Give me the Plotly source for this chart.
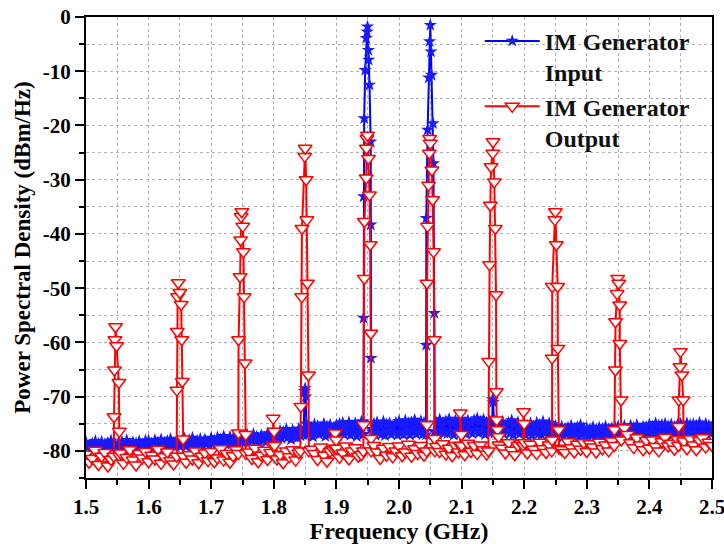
import plotly.graph_objects as go

# ---------------- data ----------------
FREQ_START = 1.5          # GHz, first sample of the noise-floor grids
IN_STEP = 0.0025          # GHz, grid step of the input noise-floor samples
OUT_STEP = 0.005          # GHz, grid step of the output noise-floor samples

# IM Generator Input: noise floor (dBm/Hz), 1.5000 ... 2.5000 GHz
input_floor = [
    -78.4, -79.3, -78.9, -79.7, -78.6, -79.9, -78.2, -79.1, -78.7, -79.6,
    -78.3, -79.4, -78.8, -79.8, -78.5, -79.2, -78.1, -79.5, -78.9, -79.0,
    -79.5, -78.6, -79.1, -78.3, -79.7, -78.9, -78.0, -79.4, -78.7, -79.8,
    -78.4, -79.2, -78.6, -79.6, -78.2, -79.3, -78.8, -79.5, -78.1, -79.0,
    -78.1, -79.2, -78.6, -79.5, -78.0, -78.9, -78.4, -79.6, -77.9, -79.1,
    -78.5, -79.3, -78.2, -79.4, -77.8, -78.9, -78.6, -79.2, -78.0, -79.0,
    -79.1, -78.2, -78.8, -77.7, -79.2, -78.4, -78.0, -79.0, -77.6, -78.7,
    -79.3, -78.1, -78.9, -77.8, -79.0, -78.3, -77.9, -78.8, -78.5, -79.1,
    -77.6, -78.7, -78.1, -79.0, -77.5, -78.5, -77.9, -78.9, -77.3, -78.6,
    -78.0, -78.8, -77.4, -78.7, -77.7, -78.5, -77.9, -78.9, -77.6, -78.3,
    -78.4, -77.3, -78.2, -77.0, -78.5, -77.6, -78.1, -76.9, -78.3, -77.4,
    -77.8, -78.6, -77.1, -78.0, -77.5, -78.4, -76.8, -77.9, -77.2, -78.2,
    -76.6, -77.8, -76.9, -77.6, -76.3, -77.7, -76.5, -77.3, -76.0, -77.5,
    -76.7, -77.9, -76.2, -77.4, -76.8, -77.6, -75.9, -77.2, -76.4, -77.0,
    -75.6, -77.1, -75.3, -76.8, -75.9, -77.4, -75.1, -76.5, -75.4, -77.0,
    -75.7, -76.6, -75.0, -77.3, -75.5, -76.9, -75.2, -76.7, -75.8, -77.1,
    -75.2, -77.2, -75.0, -76.6, -74.8, -77.0, -75.5, -76.4, -74.7, -77.1,
    -75.3, -76.8, -74.9, -77.3, -75.4, -76.5, -74.6, -76.9, -75.1, -77.0,
    -75.9, -77.3, -74.8, -76.5, -75.0, -77.1, -74.7, -76.7, -75.3, -76.9,
    -74.6, -77.2, -75.1, -76.4, -74.9, -77.0, -75.5, -76.6, -74.8, -77.1,
    -74.5, -76.8, -75.2, -77.0, -74.4, -76.3, -74.9, -77.1, -74.7, -76.1,
    -74.3, -76.9, -75.0, -76.6, -74.5, -77.0, -74.8, -76.4, -74.2, -76.7,
    -75.4, -76.9, -74.3, -76.4, -74.8, -77.0, -74.2, -76.2, -75.1, -76.7,
    -74.5, -76.8, -74.1, -76.5, -74.9, -77.1, -74.4, -76.3, -74.7, -76.9,
    -74.1, -76.6, -74.9, -76.9, -74.4, -76.1, -74.7, -76.8, -74.3, -76.4,
    -74.0, -76.7, -74.6, -76.3, -74.2, -77.0, -74.8, -76.5, -74.5, -76.6,
    -75.0, -76.7, -74.5, -77.0, -75.2, -76.3, -74.6, -76.9, -75.4, -76.2,
    -74.8, -76.8, -74.4, -77.1, -75.1, -76.5, -74.7, -76.9, -75.3, -76.4,
    -74.7, -77.1, -75.3, -76.6, -74.9, -77.2, -75.5, -76.4, -74.8, -76.9,
    -75.2, -77.0, -74.6, -76.7, -75.4, -77.2, -74.9, -76.5, -75.1, -76.8,
    -75.4, -77.3, -75.8, -77.0, -75.5, -77.4, -75.9, -76.8, -75.7, -77.2,
    -75.3, -77.1, -75.9, -76.9, -75.6, -77.4, -75.2, -77.0, -75.8, -77.2,
    -75.8, -77.5, -76.0, -77.2, -75.6, -77.6, -76.1, -76.9, -75.7, -77.4,
    -75.9, -77.3, -75.5, -77.6, -76.0, -77.1, -75.8, -77.5, -75.6, -77.2,
    -75.5, -77.2, -75.8, -77.3, -75.4, -76.9, -76.0, -77.1, -75.3, -76.8,
    -75.7, -77.2, -75.2, -77.0, -75.9, -77.3, -75.5, -76.9, -75.6, -77.1,
    -75.1, -77.0, -75.5, -76.7, -74.9, -77.1, -75.3, -76.8, -75.2, -76.9,
    -75.0, -77.2, -75.4, -76.6, -75.1, -77.0, -75.6, -76.9, -75.2, -76.8,
    -75.0, -76.8, -75.4, -77.1, -74.9, -76.5, -75.2, -77.0, -75.1, -76.7,
    -75.3, -76.9, -74.8, -77.2, -75.5, -76.6, -75.0, -77.0, -75.3, -76.8,
    -75.6,
]

# IM Generator Output: noise floor (dBm/Hz), 1.500 ... 2.500 GHz
output_floor = [
    -80.6, -82.1, -81.4, -79.9, -82.5, -81.0, -80.3, -82.8, -81.6, -80.2,
    -81.9, -80.4, -82.3, -81.2, -79.8, -81.7, -82.6, -80.5, -81.3, -80.1,
    -82.0, -80.8, -81.5, -79.7, -82.3, -81.1, -80.2, -81.8, -82.4, -80.6,
    -81.2, -79.9, -82.1, -80.7, -81.5, -80.0, -82.2, -81.0, -80.4, -81.8,
    -80.1, -82.0, -81.3, -79.6, -81.7, -80.5, -82.1, -80.9, -79.8, -81.4,
    -80.6, -81.9, -80.2, -81.4, -79.5, -82.0, -80.8, -79.9, -81.6, -80.3,
    -79.4, -81.5, -80.7, -82.2, -80.0, -81.1, -79.8, -81.7, -80.4, -79.6,
    -80.9, -81.8, -79.7, -80.5, -81.6, -79.3, -80.8, -81.9, -80.1, -79.8,
    -79.6, -81.2, -80.4, -79.1, -81.5, -80.0, -79.4, -81.0, -80.7, -79.2,
    -80.5, -81.3, -79.0, -80.2, -81.4, -79.5, -80.8, -79.2, -81.1, -80.0,
    -79.1, -80.9, -80.2, -78.8, -81.0, -79.6, -80.5, -79.0, -80.8, -79.4,
    -80.3, -81.0, -79.2, -80.1, -78.7, -80.6, -79.5, -80.9, -79.0, -80.2,
    -79.3, -80.7, -78.6, -80.1, -79.0, -80.5, -78.9, -79.8, -80.6, -79.1,
    -79.8, -80.6, -78.7, -79.5, -80.4, -78.5, -79.9, -80.7, -79.0, -78.6,
    -79.2, -80.4, -78.8, -79.7, -80.5, -78.4, -79.6, -80.3, -78.9, -79.5,
    -80.0, -78.6, -79.8, -80.3, -78.3, -79.4, -80.2, -78.8, -79.7, -78.5,
    -80.1, -78.7, -79.3, -80.2, -78.4, -79.6, -78.9, -80.0, -78.2, -79.4,
    -78.3, -76.2, -75.8, -77.0, -78.5, -79.4, -77.6, -78.9, -79.8, -78.1,
    -79.5, -78.0, -79.2, -80.0, -78.3, -77.5, -79.1, -78.6, -79.7, -77.9,
    -79.0, -78.2, -79.6, -77.8, -78.9, -79.8, -78.1, -77.6, -79.3, -78.4,
    -79.0,
]

# Input: two-tone peaks and spurs (frequency GHz, level dBm/Hz)
in_195_f = [1.9430, 1.9432, 1.9434, 1.9436, 1.9444, 1.9460, 1.9476, 1.9490, 1.9497,
            1.9510, 1.9515, 1.9529, 1.9548, 1.9550, 1.9552, 1.9556]
in_195_v = [-77.0, -74.6, -55.5, -33.1, -18.7, -9.8, -3.9, -2.7, -1.8,
            -6.1, -7.9, -12.5, -23.0, -38.3, -62.9, -76.0]
in_205_f = [2.0432, 2.0434, 2.0436, 2.0457, 2.0475, 2.0489, 2.0500,
            2.0511, 2.0520, 2.0543, 2.0550, 2.0564, 2.0568]
in_205_v = [-77.0, -60.5, -37.1, -20.8, -11.2, -4.5, -1.5,
            -6.4, -10.7, -19.6, -27.0, -54.6, -76.5]
in_185_f = [1.8480, 1.8490, 1.8500, 1.8510, 1.8520]
in_185_v = [-76.0, -69.0, -68.5, -70.0, -75.0]
in_215_f = [2.1490, 2.1495, 2.1505, 2.1515]
in_215_v = [-75.0, -70.5, -71.0, -74.5]

# Output: intermodulation products and spurs (frequency GHz, level dBm/Hz)
out_155_f = [1.5445, 1.5448, 1.5455, 1.5462, 1.5472, 1.5488, 1.5525, 1.5532, 1.5536]
out_155_v = [-81.0, -73.7, -65.1, -59.5, -57.1, -60.6, -67.4, -76.4, -81.0]
out_165_f = [1.6448, 1.6452, 1.6458, 1.6464, 1.6475, 1.6500, 1.6520, 1.6530, 1.6538, 1.6552, 1.6556]
out_165_v = [-81.0, -68.8, -58.0, -51.6, -49.0, -50.8, -53.0, -59.5, -67.2, -77.8, -81.0]
out_175_f = [1.7433, 1.7435, 1.7437, 1.7462, 1.7470, 1.7478, 1.7489,
             1.7505, 1.7515, 1.7526, 1.7542, 1.7552, 1.7555]
out_175_v = [-80.5, -76.7, -59.5, -47.9, -41.1, -36.8, -35.9,
             -38.6, -43.3, -51.6, -63.8, -77.0, -80.5]
out_185_f = [1.8425, 1.8432, 1.8446, 1.8450, 1.8495, 1.8501,
             1.8517, 1.8528, 1.8538, 1.8554, 1.8560]
out_185_v = [-80.0, -71.8, -51.6, -39.0, -25.7, -24.2,
             -30.0, -37.4, -49.1, -66.0, -80.0]
out_195_f = [1.9430, 1.9434, 1.9445, 1.9447, 1.9476, 1.9480, 1.9487, 1.9497,
             1.9513, 1.9529, 1.9540, 1.9550, 1.9552, 1.9556]
out_195_v = [-80.0, -75.2, -48.2, -37.7, -29.7, -24.2, -22.4, -21.8,
             -26.1, -32.8, -42.0, -58.3, -77.7, -80.0]
out_205_f = [2.0440, 2.0447, 2.0448, 2.0457, 2.0473, 2.0485, 2.0489,
             2.0500, 2.0526, 2.0537, 2.0553, 2.0564, 2.0569, 2.0572]
out_205_v = [-80.0, -75.2, -49.1, -38.6, -31.0, -25.1, -22.4,
             -23.3, -28.2, -33.7, -43.3, -59.5, -77.7, -80.0]
out_215_f = [2.1428, 2.1432, 2.1448, 2.1459, 2.1470, 2.1498, 2.1502,
             2.1523, 2.1539, 2.1550, 2.1555, 2.1560, 2.1575, 2.1590, 2.1600]
out_215_v = [-80.0, -63.5, -45.7, -34.7, -27.6, -25.1, -23.0,
             -30.4, -39.0, -51.2, -69.1, -74.3, -76.1, -77.4, -78.9]
out_225_f = [2.2440, 2.2445, 2.2446, 2.2448, 2.2490, 2.2498,
             2.2514, 2.2535, 2.2537, 2.2551, 2.2556]
out_225_v = [-80.0, -78.0, -62.9, -49.7, -37.4, -35.9,
             -42.0, -49.7, -61.1, -76.1, -79.5]
out_235_f = [2.3438, 2.3441, 2.3457, 2.3459, 2.3484, 2.3494,
             2.3510, 2.3526, 2.3528, 2.3548, 2.3552]
out_235_v = [-79.0, -76.1, -65.1, -56.2, -51.0, -48.2,
             -49.1, -53.1, -60.2, -70.6, -78.0]
out_245_f = [2.4465, 2.4468, 2.4470, 2.4490, 2.4497, 2.4520, 2.4540, 2.4545]
out_245_v = [-79.0, -75.5, -70.6, -64.5, -61.7, -66.0, -70.6, -78.5]
out_180_f = [1.7985, 1.7990, 1.8005, 1.8012]
out_180_v = [-79.0, -74.0, -76.4, -79.0]
out_190_f = [1.8975, 1.8980, 1.8995, 1.9000]
out_190_v = [-79.5, -76.7, -78.0, -79.5]
out_210_f = [2.0975, 2.0980, 2.0995, 2.1000]
out_210_v = [-79.0, -73.0, -77.0, -79.0]
out_220_f = [2.1985, 2.1990, 2.2000, 2.2008]
out_220_v = [-79.0, -72.8, -75.0, -78.5]

X_TICKS = [1.5, 1.6, 1.7, 1.8, 1.9, 2.0, 2.1, 2.2, 2.3, 2.4, 2.5]
Y_TICKS = [0, -10, -20, -30, -40, -50, -60, -70, -80]


def build(floor_vals, step, peaks):
    freqs = [round(FREQ_START + i * step, 5) for i in range(len(floor_vals))]
    pts = list(zip(freqs, floor_vals))
    for pf, pv in peaks:
        lo, hi = min(pf), max(pf)
        pts = [p for p in pts if not (lo - 0.0004 <= p[0] <= hi + 0.0004)]
        pts += list(zip(pf, pv))
    pts.sort()
    return [p[0] for p in pts], [p[1] for p in pts]


in_x, in_y = build(input_floor, IN_STEP,
                   [(in_195_f, in_195_v), (in_205_f, in_205_v),
                    (in_185_f, in_185_v), (in_215_f, in_215_v)])
out_x, out_y = build(output_floor, OUT_STEP, [
    (out_155_f, out_155_v), (out_165_f, out_165_v), (out_175_f, out_175_v),
    (out_185_f, out_185_v), (out_195_f, out_195_v), (out_205_f, out_205_v),
    (out_215_f, out_215_v), (out_225_f, out_225_v), (out_235_f, out_235_v),
    (out_245_f, out_245_v), (out_180_f, out_180_v), (out_190_f, out_190_v),
    (out_210_f, out_210_v), (out_220_f, out_220_v)])

FONT = "Liberation Serif, Times New Roman, serif"

fig = go.Figure()
fig.add_trace(go.Scatter(
    x=in_x, y=in_y, mode="lines+markers", name="IM Generator<br>Input",
    line=dict(color="#0000ff", width=2),
    marker=dict(symbol="star", size=10, color="#1a1aff", line=dict(width=0)),
))
fig.add_trace(go.Scatter(
    x=out_x, y=out_y, mode="lines+markers", name="IM Generator<br>Output",
    line=dict(color="#ff0000", width=2),
    marker=dict(symbol="triangle-down", size=12, color="white",
                line=dict(color="#ff0000", width=1.5)),
))

axis_common = dict(
    showline=True, linecolor="black", linewidth=2, mirror=True,
    ticks="outside", ticklen=9, tickwidth=2, tickcolor="black",
    showgrid=False, zeroline=False, automargin=False, ticklabeloverflow="allow",
    tickfont=dict(family=FONT, size=21, color="black", weight="bold"),
)

fig.update_xaxes(
    range=[1.5, 2.5], tickvals=X_TICKS, ticktext=[f"{v:.1f}" for v in X_TICKS],
    title=dict(text="Frequency (GHz)", font=dict(family=FONT, size=24, color="black", weight="bold"),
               standoff=12),
    minor=dict(dtick=0.05, tick0=1.5, ticks="outside", ticklen=5, tickwidth=2, tickcolor="black",
               showgrid=True, gridcolor="#b0b0b0", griddash="dot", gridwidth=1),
    **axis_common,
)
fig.update_yaxes(
    range=[-85, 0], tickvals=Y_TICKS, ticktext=[str(v) for v in Y_TICKS],
    title=dict(text="Power Spectral Density (dBm/Hz)",
               font=dict(family=FONT, size=23, color="black", weight="bold"), standoff=6),
    minor=dict(dtick=5, tick0=0, ticks="outside", ticklen=5, tickwidth=2, tickcolor="black",
               showgrid=True, gridcolor="#b0b0b0", griddash="dot", gridwidth=1),
    **axis_common,
)

fig.update_layout(
    width=724, height=544,
    margin=dict(l=86, r=12, t=17, b=66),
    paper_bgcolor="white", plot_bgcolor="white",
    showlegend=True,
    legend=dict(
        x=0.629, y=0.996, xanchor="left", yanchor="top",
        bgcolor="rgba(0,0,0,0)", borderwidth=0,
        font=dict(family=FONT, size=24, color="#111111", weight="bold"),
        itemwidth=55, valign="top", tracegroupgap=0,
    ),
)

# remove the browser's default 8px page margin so the figure fills the window
fig.write_html("out.html", config={"displayModeBar": False},
               post_script="document.body.style.margin='0';document.body.style.overflow='hidden';")
